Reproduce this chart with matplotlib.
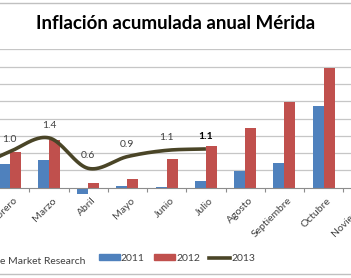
import numpy as np
import matplotlib
matplotlib.use("Agg")
import matplotlib.pyplot as plt
from matplotlib.lines import Line2D
from matplotlib.patches import Patch

plt.rcParams['font.family'] = ['Lato', 'DejaVu Sans']

months = ["Enero", "Febrero", "Marzo", "Abril", "Mayo", "Junio", "Julio",
          "Agosto", "Septiembre", "Octubre", "Noviembre"]
vals_2011 = [np.nan, 0.68, 0.81, -0.18, 0.06, 0.03, 0.20, 0.48, 0.70, 2.36, np.nan]
vals_2012 = [np.nan, 1.02, 1.38, 0.15, 0.24, 0.83, 1.22, 1.74, 2.47, 3.46, np.nan]
vals_2013 = [0.50, 1.04, 1.44, 0.56, 0.90, 1.08, 1.12]
series_names = ["2011", "2012", "2013"]
title = "Inflación acumulada anual Mérida"
source = "e Market Research"

C_BLUE = "#4f81bd"
C_RED = "#c0504d"
C_LINE = "#4a4527"
GRID = "#c6c6c6"
TXT = "#404040"

W, H = 351, 278
fig = plt.figure(figsize=(W / 100, H / 100), dpi=100)
fig.patch.set_facecolor("white")

def fy(px):
    return 1 - px / H

# axes extends beyond the visible picture (the reference is a cropped chart)
EXT = 70.2  # px beyond each side
ax = fig.add_axes([-EXT / W, fy(198.1), 1 + 2 * EXT / W, (198.1 - 49.3) / H])
x = np.arange(len(months))
bw = 0.28
ax.bar(x - 0.14, vals_2011, width=bw, color=C_BLUE, zorder=2)
ax.bar(x + 0.14, vals_2012, width=bw, color=C_RED, zorder=2)

# smoothed line (Catmull-Rom, like Excel's smoothed line)
y3 = np.array(vals_2013)
x3 = np.arange(len(y3))
px = np.concatenate([[2 * x3[0] - x3[1]], x3, [2 * x3[-1] - x3[-2]]])
py = np.concatenate([[2 * y3[0] - y3[1]], y3, [2 * y3[-1] - y3[-2]]])
xs, ys = [], []
for k in range(1, len(px) - 2):
    s = np.linspace(0, 1, 40)
    m0 = (py[k + 1] - py[k - 1]) / 2
    m1 = (py[k + 2] - py[k]) / 2
    h00 = 2 * s**3 - 3 * s**2 + 1
    h10 = s**3 - 2 * s**2 + s
    h01 = -2 * s**3 + 3 * s**2
    h11 = s**3 - s**2
    ys.append(h00 * py[k] + h10 * m0 + h01 * py[k + 1] + h11 * m1)
    xs.append(px[k] + s)
ax.plot(np.concatenate(xs), np.concatenate(ys), color=C_LINE, lw=2.6,
        solid_capstyle='butt', zorder=3)

# data labels (Enero's label lies outside the cropped picture)
for i, v in enumerate(vals_2013):
    if i == 0:
        continue
    last = i == len(vals_2013) - 1
    ax.annotate(f"{v:.1f}", (i, v), xytext=(0, 9), textcoords="offset points",
                ha="center", va="center", fontsize=7.5,
                color="black" if last else TXT,
                fontweight="bold" if last else "normal", zorder=4)

ax.set_yticks(np.arange(0.5, 4.01, 0.5))
ax.tick_params(axis='y', left=False, labelleft=False)
ax.yaxis.grid(True, color=GRID, lw=0.9, zorder=0)
ax.set_axisbelow(True)
for s in ["left", "right", "top"]:
    ax.spines[s].set_visible(False)
ax.spines["bottom"].set_position(("data", 0))
ax.spines["bottom"].set_color("#8c8c8c")
ax.spines["bottom"].set_linewidth(0.8)
ax.spines["bottom"].set_zorder(3)

ax.set_xticks(x)
ax.set_xticklabels(months, rotation=45, ha="right", va="top",
                   rotation_mode="anchor", fontsize=7.5, color=TXT)
ax.tick_params(axis='x', which='major', length=0, pad=6)
ax.set_xticks(np.arange(-0.5, len(months), 1.0), minor=True)
ax.tick_params(axis='x', which='minor', length=3, width=0.8, color="#8c8c8c",
               direction="out")
for lab in ax.get_xticklabels():
    lab.set_transform(lab.get_transform() +
                      matplotlib.transforms.ScaledTranslation(3 / 100, 0, fig.dpi_scale_trans))

ppu = 39.25  # pixels per category
ax.set_xlim(0.7535 - EXT / ppu, 9.696 + EXT / ppu)
ax.set_ylim(-0.3, 4.0)

fig.text(0.5, fy(23.5), title, ha="center", va="center", fontsize=13.5,
         fontweight="bold", color="black")

handles = [Patch(color=C_BLUE), Patch(color=C_RED),
           Line2D([0], [0], color=C_LINE, lw=2.6)]
leg = fig.legend(handles, series_names, loc="center",
                 bbox_to_anchor=(177 / W, fy(258.5)), ncol=3, frameon=False,
                 fontsize=7.5, handlelength=2.0, handleheight=0.5,
                 handletextpad=0.1, columnspacing=0.9, borderpad=0)
for t in leg.get_texts():
    t.set_color(TXT)

fig.text(0, fy(262), source, ha="left", va="center", fontsize=7.5, color=TXT)

for ypx in (3, 274):
    fig.add_artist(Line2D([0, 1], [fy(ypx), fy(ypx)], color="#c0c0c0", lw=1.0,
                          transform=fig.transFigure))

fig.savefig("out.png", dpi=100, facecolor="white")
